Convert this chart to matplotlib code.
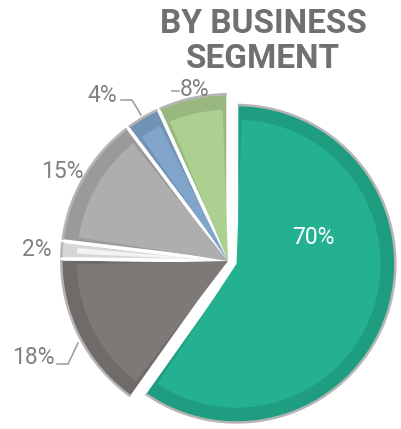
import numpy as np
import matplotlib
matplotlib.use("Agg")
import matplotlib.pyplot as plt
from matplotlib.patches import Wedge

# ── data ──────────────────────────────────────────────────────────────────────
segments = ["Segment A", "Segment B", "Segment C", "Segment D", "Segment E", "Segment F"]
values   = [70, 18, 2, 15, 4, 8]
labels   = ["70%", "18%", "2%", "15%", "4%", "8%"]
colors   = ["#22ae8e", "#7c7775", "#eeeeee", "#ababab", "#7ea2c6", "#a9cc8d"]

# ── layout (pixel units from top-left, figure is 401x429) ────────────────────
W, H = 401, 429
CX, CY = 228, 261
R = 168
R_MAIN = 160
# pie() takes explode in data units here (pixels)
explode = [9, 0, 0, 0, 0, 0]
# label centres (x, y from top) for each slice
lab_pos = [(313, 238), (33, 357), (37, 250), (62, 172), (102, 95), (195, 90)]
# leader polylines (x, y from top), None = no leader
leaders = [None,
           [(57, 364), (68, 364), (78, 343)],
           None, None,
           [(121, 100), (132, 100), (141, 115)],
           [(172, 91), (179, 91)]]


def yflip(y):
    return H - y


fig = plt.figure(figsize=(W / 100, H / 100), dpi=100)
ax = fig.add_axes([0, 0, 1, 1])

wedges, _ = ax.pie(values, colors=colors, startangle=90, counterclock=False,
                   explode=explode, radius=R, center=(CX, yflip(CY)),
                   wedgeprops=dict(edgecolor="white", linewidth=2.5))
wedges[0].set_radius(R_MAIN)
ax.set_xlim(0, W)
ax.set_ylim(0, H)
ax.set_aspect("equal")
ax.axis("off")

# fake bevel: darker rim + slightly lighter inner face
for w, c in zip(wedges, colors):
    rgb = np.array(matplotlib.colors.to_rgb(c))
    w.set_facecolor(rgb * 0.9)
    ax.add_patch(Wedge(w.center, w.r * 0.9, w.theta1 + 2, w.theta2 - 2,
                       facecolor=np.clip(rgb * 1.02, 0, 1), edgecolor="none", zorder=3))
    ax.add_patch(Wedge(w.center, w.r, w.theta1 + 0.4, w.theta2 - 0.4, width=2.5,
                       facecolor="#b5b5b5", edgecolor="none", zorder=3))

for i, (px, py) in enumerate(lab_pos):
    col = "white" if i == 0 else "#808080"
    ax.text(px, yflip(py), labels[i], color=col, fontsize=16.5, family="Roboto",
            ha="center", va="center", zorder=5)
    if leaders[i]:
        xs, ys = zip(*leaders[i])
        ax.plot(xs, [yflip(y) for y in ys], color="#9a9a9a", lw=1.1, zorder=5)

ax.text(263, yflip(24), "BY BUSINESS", color="#707070", fontsize=24,
        family="Roboto", fontweight="bold", ha="center", va="center")
ax.text(263, yflip(59), "SEGMENT", color="#707070", fontsize=24,
        family="Roboto", fontweight="bold", ha="center", va="center")

fig.savefig("out.png", dpi=100)
